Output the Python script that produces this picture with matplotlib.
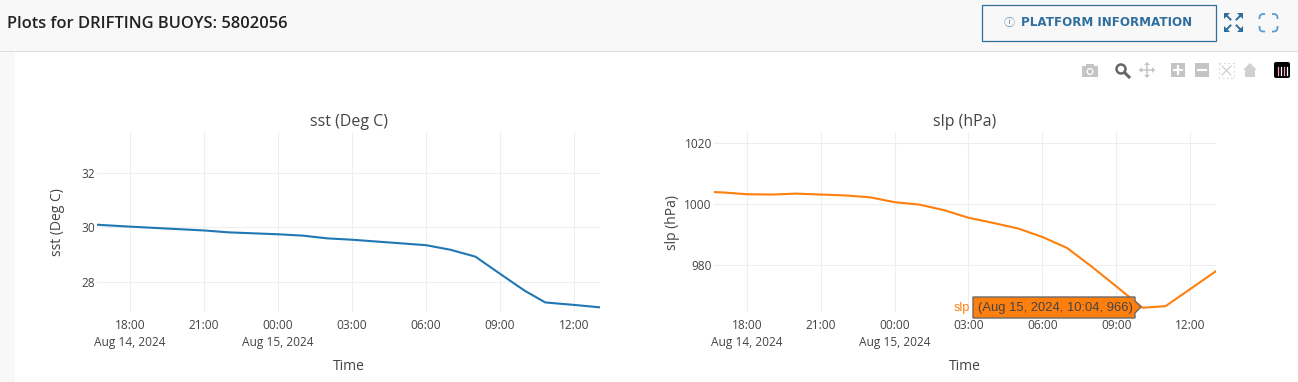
import pandas as pd
import matplotlib
matplotlib.use('Agg')
import matplotlib.pyplot as plt
from matplotlib.patches import Rectangle, Polygon, Circle, FancyBboxPatch

W, H = 1298, 382

# Datos
sst_times = ['2024-08-14 16:40', '2024-08-14 18:00', '2024-08-14 21:00', '2024-08-14 22:00',
             '2024-08-15 00:00', '2024-08-15 01:00', '2024-08-15 02:00', '2024-08-15 03:00',
             '2024-08-15 06:00', '2024-08-15 07:00', '2024-08-15 08:00', '2024-08-15 09:00',
             '2024-08-15 10:00', '2024-08-15 10:50', '2024-08-15 12:00', '2024-08-15 13:03']
sst_values = [30.1, 30.03, 29.89, 29.82, 29.75, 29.7, 29.6, 29.55,
              29.35, 29.18, 28.93, 28.3, 27.68, 27.25, 27.16, 27.07]

slp_times = ['2024-08-14 16:40', '2024-08-14 17:00', '2024-08-14 18:00', '2024-08-14 19:00',
             '2024-08-14 20:00', '2024-08-14 21:00', '2024-08-14 22:00', '2024-08-14 23:00',
             '2024-08-15 00:00', '2024-08-15 01:00', '2024-08-15 02:00', '2024-08-15 03:00',
             '2024-08-15 04:00', '2024-08-15 05:00', '2024-08-15 06:00', '2024-08-15 07:00',
             '2024-08-15 08:00', '2024-08-15 09:00', '2024-08-15 10:04', '2024-08-15 11:00',
             '2024-08-15 13:03']
slp_values = [1003.9, 1003.8, 1003.2, 1003.1, 1003.4, 1003.1, 1002.8, 1002.2,
              1000.6, 999.8, 998.0, 995.5, 993.8, 992.0, 989.2, 985.6,
              979.5, 973.0, 966.0, 966.5, 978.0]

tick_times = ['2024-08-14 18:00', '2024-08-14 21:00', '2024-08-15 00:00', '2024-08-15 03:00',
              '2024-08-15 06:00', '2024-08-15 09:00', '2024-08-15 12:00']
tick_labels = ['18:00\nAug 14, 2024', '21:00', '00:00\nAug 15, 2024', '03:00', '06:00', '09:00', '12:00']
sst_yticks = [28, 30, 32]
slp_yticks = [980, 1000, 1020]

plt.rcParams['font.family'] = ['Open Sans', 'DejaVu Sans']
fig = plt.figure(figsize=(W / 100, H / 100), dpi=100, facecolor='white')


def px_axes(x0, y0, x1, y1, **kw):
    return fig.add_axes([x0 / W, 1 - y1 / H, (x1 - x0) / W, (y1 - y0) / H], **kw)


# Fondo de la pagina
bg = px_axes(0, 0, W, H, zorder=-1)
bg.set_xlim(0, W)
bg.set_ylim(H, 0)
bg.axis('off')
bg.add_patch(Rectangle((0, 0), W, 51, color='#f8f8f8', lw=0))
bg.add_patch(Rectangle((0, 51), W, 1, color='#dddddd', lw=0))
bg.add_patch(Rectangle((0, 52), 15, H - 52, color='#f8f8f8', lw=0))


def draw_panel(box, times, values, color, title, ylabel, yticks, ylim, ypad):
    ax = px_axes(*box)
    ax.plot(pd.to_datetime(times), values, color=color, lw=1.5, solid_joinstyle='round')
    ax.set_xlim(pd.Timestamp('2024-08-14 16:40'), pd.Timestamp('2024-08-15 13:03'))
    ax.set_ylim(*ylim)
    ax.set_xticks(pd.to_datetime(tick_times))
    ax.set_xticklabels(tick_labels, linespacing=1.4)
    ax.set_yticks(yticks)
    ax.grid(color='#eeeeee', lw=0.75)
    ax.set_axisbelow(True)
    ax.tick_params(length=0, labelsize=8.6, labelcolor='#444444')
    ax.tick_params(axis='x', pad=5)
    ax.tick_params(axis='y', pad=1.5)
    for s in ax.spines.values():
        s.set_visible(False)
    ax.set_xlabel('Time', fontsize=10, color='#444444', labelpad=7)
    ax.set_ylabel(ylabel, fontsize=10, color='#444444', labelpad=ypad)
    ax.set_title(title, fontsize=11.5, color='#444444', pad=4.5)
    return ax


draw_panel((97, 132, 600, 312), sst_times, sst_values, '#1f77b4',
           'sst (Deg C)', 'sst (Deg C)', sst_yticks, (26.9, 33.5), 11.5)
draw_panel((714, 132, 1216, 312), slp_times, slp_values, '#ff7f0e',
           'slp (hPa)', 'slp (hPa)', slp_yticks, (964.6, 1023.6), 3)

# Capa superior: encabezado, iconos y tooltip
fg = px_axes(0, 0, W, H, zorder=5)
fg.set_xlim(0, W)
fg.set_ylim(H, 0)
fg.axis('off')
fg.patch.set_alpha(0)

fg.text(7, 24.5, 'Plots for DRIFTING BUOYS: 5802056', fontsize=11.85, fontweight='semibold',
        color='#222222', va='center', ha='left')

blue = '#2f6f9f'
fg.add_patch(Rectangle((981.5, 4.5), 234, 36, fill=False, ec=blue, lw=0.9))
fg.text(1009, 23, 'ⓘ', fontsize=8, color='#5f8fb5', va='center', ha='center',
        family=['Noto Sans CJK JP', 'DejaVu Sans'])
fg.text(1106.7, 23, 'PLATFORM INFORMATION', fontsize=8.6, fontweight='bold', color=blue,
        va='center', ha='center', family=['DejaVu Sans'])

# Iconos de expandir
for dx, dy in [(-1, -1), (1, -1), (-1, 1), (1, 1)]:
    cx, cy = 1233.5 + dx * 3, 22.5 + dy * 3
    fg.plot([cx, cx + dx * 4], [cy, cy + dy * 4], color=blue, lw=1.4)
    fg.add_patch(Polygon([(cx + dx * 6.5, cy + dy * 6.5), (cx + dx * 0.5, cy + dy * 6.5), (cx + dx * 6.5, cy + dy * 0.5)],
                         color=blue, lw=0))
fg.add_patch(FancyBboxPatch((1259.5, 14), 18, 17.5, boxstyle='round,pad=0,rounding_size=4',
                            fill=False, ec='#5b9bd0', lw=1.3))
fg.add_patch(Rectangle((1265, 12), 7, 22, color='#f8f8f8', lw=0, zorder=3))
fg.add_patch(Rectangle((1257, 19), 23, 7, color='#f8f8f8', lw=0, zorder=3))

# Barra de plotly
grey = '#c4c4c4'
fg.add_patch(Rectangle((1082, 66), 16, 11, color=grey, lw=0))
fg.add_patch(Rectangle((1086, 64), 8, 3, color=grey, lw=0))
fg.add_patch(Circle((1090, 71.5), 3.5, color='white', lw=0))
fg.add_patch(Circle((1090, 71.5), 2.2, color=grey, lw=0))
fg.add_patch(Circle((1121, 69), 4.5, fc='none', ec='#666666', lw=1.8))
fg.plot([1125, 1129], [73, 77], color='#666666', lw=2.2)
fg.plot([1147, 1147], [64, 76], color=grey, lw=1.1)
fg.plot([1140, 1154], [70, 70], color=grey, lw=1.1)
for tip in [[(1147, 62), (1144, 65), (1150, 65)], [(1147, 78), (1144, 75), (1150, 75)],
            [(1139, 70), (1142, 67), (1142, 73)], [(1155, 70), (1152, 67), (1152, 73)]]:
    fg.add_patch(Polygon(tip, color=grey, lw=0))
fg.add_patch(Rectangle((1171, 63), 14, 14, color=grey, lw=0))
fg.plot([1174, 1182], [70, 70], color='white', lw=1.6)
fg.plot([1178, 1178], [66, 74], color='white', lw=1.6)
fg.add_patch(Rectangle((1195, 63), 14, 14, color=grey, lw=0))
fg.plot([1198, 1206], [70, 70], color='white', lw=1.6)
fg.add_patch(Rectangle((1219, 63), 15, 15, fill=False, ec='#dddddd', lw=0.8, ls=(0, (2, 2))))
fg.plot([1222, 1231], [66, 75], color=grey, lw=0.7)
fg.plot([1222, 1231], [75, 66], color=grey, lw=0.7)
fg.add_patch(Polygon([(1243, 70), (1250, 63), (1257, 70), (1255, 70), (1255, 77), (1245, 77), (1245, 70)],
                     color='#d0d0d0', lw=0))
fg.add_patch(FancyBboxPatch((1274, 62), 16, 16, boxstyle='round,pad=0,rounding_size=2', color='black', lw=0))
for bx, c in zip([1278, 1281, 1284, 1287], ['#ff9fb5', 'white', '#ff9fb5', 'white']):
    fg.plot([bx, bx], [67, 75], color=c, lw=0.9)

# Tooltip
fg.add_patch(Polygon([(973, 297), (1135, 297), (1135, 301), (1141, 307), (1135, 313), (1135, 318), (973, 318)],
                     fc='#ff7f0e', ec='#6b6b6b', lw=1))
fg.text(1055, 307.5, '(Aug 15, 2024, 10:04, 966)', fontsize=9.4, color='#444444',
        va='center', ha='center', family=['Liberation Sans'])
fg.text(970, 307.5, 'slp', fontsize=9.2, color='#ff7f0e', va='center', ha='right', family=['Liberation Sans'])

fig.savefig('out.png', dpi=100, facecolor=fig.get_facecolor())
